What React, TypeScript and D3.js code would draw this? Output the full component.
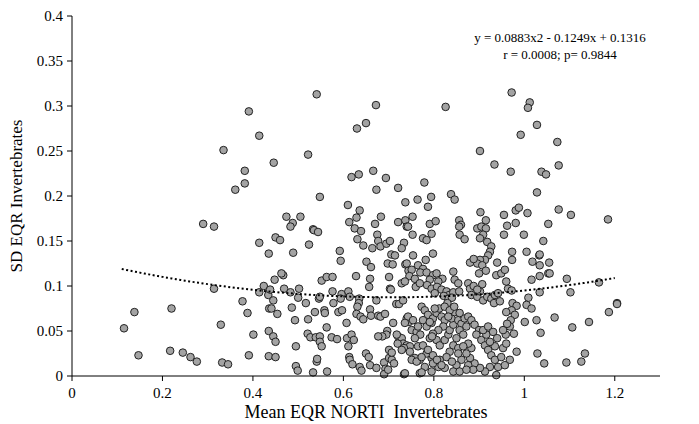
import * as d3 from "d3";

// Mean EQR (x) and SD EQR (y) per site
const meanEqr = [
  0.391, 0.414, 0.335, 0.382, 0.382, 0.361, 0.29, 0.314, 0.414, 0.435, 0.314, 0.424, 0.414, 0.434, 0.377, 0.388,
  0.436, 0.138, 0.22, 0.115, 0.329, 0.401, 0.435, 0.147, 0.217, 0.245, 0.262, 0.276, 0.332, 0.345, 0.391, 0.435,
  0.541, 0.672, 0.65, 0.63, 0.522, 0.446, 0.618, 0.634, 0.666, 0.694, 0.673, 0.721, 0.548, 0.737, 0.61, 0.636,
  0.629, 0.683, 0.474, 0.505, 0.488, 0.483, 0.613, 0.721, 0.737, 0.67, 0.533,
  0.535, 0.544, 0.45, 0.46, 0.524, 0.489, 0.592, 0.594, 0.625, 0.639, 0.675, 0.677, 0.664, 0.682, 0.631, 0.644,
  0.651, 0.661, 0.659, 0.657, 0.695, 0.703, 0.734, 0.74, 0.706, 0.714, 0.698, 0.709, 0.737, 0.744, 0.628, 0.701,
  0.703, 0.705, 0.729, 0.717, 0.723, 0.552, 0.563, 0.576, 0.467, 0.463, 0.448, 0.438, 0.445, 0.441, 0.454, 0.469,
  0.483, 0.502, 0.5, 0.486, 0.517, 0.546, 0.548, 0.576, 0.596, 0.611, 0.594, 0.614, 0.537, 0.558, 0.559, 0.589,
  0.597, 0.578, 0.635, 0.634, 0.631, 0.629, 0.638, 0.644, 0.659, 0.661, 0.677, 0.673, 0.682, 0.692, 0.71, 0.74,
  0.745, 0.493, 0.522, 0.563, 0.607, 0.445, 0.45, 0.521, 0.527, 0.539, 0.548, 0.548, 0.552, 0.574, 0.586, 0.608,
  0.611, 0.618, 0.623, 0.495, 0.45, 0.495, 0.499, 0.533, 0.564, 0.541, 0.542, 0.613, 0.614, 0.62, 0.636, 0.64,
  0.65, 0.656, 0.659, 0.673, 0.69, 0.693, 0.701, 0.707, 0.712, 0.734, 0.69, 0.721, 0.729, 0.732, 0.74, 0.718,
  0.697, 0.695, 0.686, 0.677,
  0.972, 1.012, 1.008, 0.826, 1.028, 0.992, 0.902, 0.934, 0.97, 1.038, 1.048, 0.779, 1.028, 0.764, 0.794, 0.787,
  0.838, 0.846, 0.753, 0.903, 0.915, 0.955, 0.981, 0.988, 1.007, 1.053, 0.791, 0.804, 0.856, 0.86, 0.856, 0.743,
  0.962, 0.981, 0.896, 0.905, 0.915,
  0.857, 0.909, 0.918, 0.902, 0.955, 0.999, 1.042, 0.753, 0.776, 0.784, 0.795, 0.729, 0.927, 0.924, 0.92, 0.913,
  0.902, 0.896, 0.907, 0.915, 0.9, 0.88, 0.888, 0.94, 0.973, 0.973, 1.005, 1.018, 1.033, 1.034, 1.053, 0.798,
  0.754, 0.74, 0.751, 0.746, 0.758, 0.76, 0.769, 0.736, 0.782, 0.765, 0.776, 0.77, 0.784, 0.798, 0.806, 0.819,
  0.81, 0.791, 0.785, 0.795, 0.807, 0.817, 0.802, 0.828, 0.834, 0.843, 0.846, 0.854, 0.876, 0.88, 0.883, 0.896,
  0.902, 0.888, 0.907, 0.896, 0.843, 0.856, 0.909, 0.918, 0.927, 0.935, 0.942, 0.933, 0.946, 0.964, 0.972, 0.96,
  0.938, 0.949, 0.957, 1.009, 1.005, 1.016, 1.034, 1.027, 1.036, 1.029, 1.044, 0.974, 0.983, 0.972, 0.979, 0.97,
  0.968, 0.977, 0.959, 0.953, 0.962, 0.96, 1.001, 0.732, 0.743, 0.754, 0.736, 0.751, 0.762, 0.77, 0.758, 0.747,
  0.734, 0.765, 0.776, 0.773, 0.78, 0.787, 0.776, 0.784, 0.795, 0.798, 0.806, 0.812, 0.817, 0.824, 0.821, 0.81,
  0.798, 0.791, 0.806, 0.813, 0.824, 0.832, 0.835, 0.843, 0.839, 0.846, 0.854, 0.861, 0.868, 0.876, 0.872, 0.857,
  0.865, 0.85, 0.843, 0.854, 0.835, 0.828, 0.813, 0.795, 0.784, 0.769, 0.758, 0.747, 0.883, 0.89, 0.9, 0.894,
  0.905, 0.913, 0.92, 0.927, 0.935, 0.942, 0.938, 0.924, 0.913, 0.902, 0.89, 0.88, 0.872, 0.883, 0.876, 0.865,
  0.861, 0.85, 0.843, 0.824, 0.81, 0.798, 0.78, 0.769, 0.953, 0.96, 0.983, 0.968, 0.957, 0.949, 0.935, 0.924,
  0.916, 0.909, 0.92, 0.931, 0.94,
  1.073, 1.076, 1.076, 1.103, 1.185, 1.055, 1.056, 1.034, 1.034, 1.094, 1.165, 1.102, 1.205, 1.205, 1.187, 1.067,
  1.143, 1.106, 1.134, 1.093, 1.126,
  0.701, 0.707, 0.699, 1.016, 0.868, 0.822, 0.833, 0.84, 0.83, 0.802, 0.824, 0.835, 0.845, 0.765, 0.791, 0.796,
  0.832, 0.857, 0.72, 0.729, 0.751, 0.762, 0.773, 0.787, 0.798, 0.807, 0.817, 0.84, 0.854, 0.876, 0.887, 0.736,
  0.773, 0.795, 0.857, 0.872,
];

const sdEqr = [
  0.294, 0.267, 0.251, 0.228, 0.214, 0.207, 0.169, 0.166, 0.148, 0.136, 0.097, 0.1, 0.093, 0.09, 0.083, 0.07,
  0.075, 0.071, 0.075, 0.053, 0.057, 0.046, 0.05, 0.023, 0.028, 0.026, 0.021, 0.016, 0.015, 0.013, 0.023, 0.022,
  0.313, 0.301, 0.281, 0.275, 0.246, 0.237, 0.221, 0.224, 0.228, 0.22, 0.207, 0.209, 0.199, 0.193, 0.19, 0.184,
  0.176, 0.177, 0.177, 0.177, 0.17, 0.166, 0.171, 0.171, 0.173, 0.169, 0.163,
  0.162, 0.16, 0.154, 0.151, 0.146, 0.137, 0.139, 0.128, 0.164, 0.161, 0.157, 0.15, 0.142, 0.144, 0.152, 0.145,
  0.127, 0.121, 0.108, 0.099, 0.147, 0.15, 0.148, 0.166, 0.135, 0.134, 0.125, 0.124, 0.124, 0.117, 0.111, 0.11,
  0.097, 0.096, 0.103, 0.08, 0.08, 0.106, 0.11, 0.11, 0.112, 0.114, 0.107, 0.096, 0.084, 0.075, 0.069, 0.097,
  0.093, 0.097, 0.087, 0.076, 0.081, 0.086, 0.088, 0.094, 0.091, 0.094, 0.086, 0.088, 0.071, 0.073, 0.07, 0.071,
  0.073, 0.081, 0.086, 0.081, 0.077, 0.069, 0.066, 0.063, 0.074, 0.067, 0.067, 0.084, 0.066, 0.069, 0.059, 0.064,
  0.06, 0.062, 0.063, 0.054, 0.059, 0.044, 0.038, 0.047, 0.043, 0.043, 0.044, 0.038, 0.033, 0.043, 0.041, 0.042,
  0.033, 0.046, 0.04, 0.033, 0.021, 0.011, 0.006, 0.004, 0.005, 0.016, 0.019, 0.021, 0.018, 0.013, 0.01, 0.006,
  0.025, 0.021, 0.012, 0.009, 0.015, 0.008, 0.02, 0.018, 0.014, 0.002, 0.002, 0.044, 0.042, 0.036, 0.034, 0.046,
  0.05, 0.046, 0.044, 0.044,
  0.315, 0.304, 0.298, 0.299, 0.279, 0.268, 0.25, 0.235, 0.227, 0.227, 0.224, 0.215, 0.204, 0.196, 0.199, 0.188,
  0.202, 0.196, 0.177, 0.182, 0.173, 0.179, 0.184, 0.187, 0.181, 0.169, 0.169, 0.172, 0.173, 0.168, 0.166, 0.166,
  0.167, 0.17, 0.164, 0.166, 0.164,
  0.157, 0.157, 0.149, 0.153, 0.157, 0.157, 0.15, 0.157, 0.153, 0.151, 0.158, 0.142, 0.144, 0.138, 0.134, 0.129,
  0.129, 0.125, 0.123, 0.117, 0.114, 0.126, 0.13, 0.126, 0.138, 0.129, 0.138, 0.127, 0.134, 0.123, 0.114, 0.136,
  0.134, 0.125, 0.118, 0.111, 0.108, 0.099, 0.103, 0.105, 0.129, 0.123, 0.119, 0.115, 0.115, 0.112, 0.114, 0.108,
  0.105, 0.107, 0.101, 0.097, 0.099, 0.096, 0.092, 0.094, 0.09, 0.116, 0.107, 0.103, 0.103, 0.097, 0.09, 0.088,
  0.094, 0.1, 0.102, 0.096, 0.093, 0.094, 0.084, 0.088, 0.086, 0.09, 0.092, 0.081, 0.083, 0.097, 0.095, 0.105,
  0.112, 0.114, 0.118, 0.087, 0.079, 0.075, 0.093, 0.062, 0.048, 0.025, 0.014, 0.081, 0.078, 0.073, 0.068, 0.062,
  0.055, 0.047, 0.046, 0.051, 0.058, 0.071, 0.06, 0.084, 0.066, 0.062, 0.059, 0.051, 0.049, 0.046, 0.042, 0.033,
  0.031, 0.033, 0.034, 0.077, 0.073, 0.068, 0.062, 0.055, 0.059, 0.064, 0.07, 0.075, 0.066, 0.062, 0.055, 0.051,
  0.047, 0.042, 0.04, 0.034, 0.04, 0.046, 0.051, 0.057, 0.064, 0.071, 0.062, 0.058, 0.064, 0.066, 0.055, 0.051,
  0.046, 0.042, 0.034, 0.031, 0.027, 0.021, 0.018, 0.02, 0.025, 0.018, 0.02, 0.027, 0.062, 0.057, 0.051, 0.046,
  0.04, 0.034, 0.029, 0.023, 0.018, 0.01, 0.001, 0.01, 0.005, 0.009, 0.014, 0.02, 0.025, 0.031, 0.036, 0.033,
  0.018, 0.012, 0.005, 0.009, 0.01, 0.014, 0.01, 0.003, 0.031, 0.036, 0.027, 0.018, 0.012, 0.021, 0.033, 0.038,
  0.046, 0.051, 0.055, 0.049, 0.042,
  0.26, 0.234, 0.185, 0.179, 0.174, 0.126, 0.114, 0.135, 0.111, 0.108, 0.104, 0.093, 0.081, 0.08, 0.071, 0.065,
  0.06, 0.054, 0.025, 0.015, 0.016,
  0.029, 0.026, 0.007, 0.107, 0.152, 0.089, 0.086, 0.087, 0.081, 0.075, 0.077, 0.073, 0.077, 0.055, 0.06, 0.044,
  0.066, 0.07, 0.036, 0.029, 0.018, 0.016, 0.021, 0.029, 0.023, 0.018, 0.012, 0.016, 0.025, 0.012, 0.007, 0.003,
  0.004, 0.005, 0.005, 0.007,
];

const xTicks = [0, 0.2, 0.4, 0.6, 0.8, 1, 1.2];
const yTicks = [0, 0.05, 0.1, 0.15, 0.2, 0.25, 0.3, 0.35, 0.4];

// polynomial trendline printed on the chart
const fitCoef = [0.0883, -0.1249, 0.1316];
const fitRange = [0.11, 1.2];
const fitLabel = "y = 0.0883x2 - 0.1249x + 0.1316";
const statLabel = "r = 0.0008; p= 0.9844";

const width = 699;
const height = 424;
const margin = { top: 16, right: 39, bottom: 48, left: 72 };
const font = "'Liberation Serif', 'Times New Roman', serif";

export default function App() {
  const x = d3.scaleLinear().domain([0, 1.3]).range([margin.left, width - margin.right]);
  const y = d3.scaleLinear().domain([0, 0.4]).range([height - margin.bottom, margin.top]);

  const points = meanEqr.map((m, i) => ({ m, s: sdEqr[i] }));

  const fit = (v: number) => fitCoef[0] * v * v + fitCoef[1] * v + fitCoef[2];
  const fitXs = d3.range(fitRange[0], fitRange[1] + 0.001, 0.01);
  const line = d3
    .line<number>()
    .x(v => x(v))
    .y(v => y(fit(v)));

  const x0 = x(0);
  const y0 = y(0);

  return (
    <svg
      width={width}
      height={height}
      style={{ position: "absolute", left: 0, top: 0, background: "#fff" }}
      fontFamily={font}
    >
      <g className="points">
        {points.map((p, i) => (
          <circle key={i} cx={x(p.m)} cy={y(p.s)} r={3.8} fill="#a3a3a3" stroke="#222" strokeWidth={1} />
        ))}
      </g>

      <path d={line(fitXs) ?? ""} fill="none" stroke="#000" strokeWidth={2} strokeDasharray="2 2.5" />

      {/* y axis */}
      <line x1={x0} x2={x0} y1={y(0.4)} y2={y0} stroke="#000" strokeWidth={1} />
      {yTicks.map(t => (
        <g key={t}>
          <line x1={x0 - 5} x2={x0} y1={y(t)} y2={y(t)} stroke="#000" />
          <text x={x0 - 9} y={y(t)} dy="0.35em" textAnchor="end" fontSize={15}>
            {String(t)}
          </text>
        </g>
      ))}

      {/* x axis */}
      <line x1={x0} x2={x(1.3)} y1={y0} y2={y0} stroke="#000" strokeWidth={1} />
      {xTicks.map(t => (
        <g key={t}>
          <line x1={x(t)} x2={x(t)} y1={y0} y2={y0 + 5} stroke="#000" />
          <text x={x(t)} y={y0 + 22} textAnchor="middle" fontSize={15}>
            {String(t)}
          </text>
        </g>
      ))}

      <text
        transform={`translate(22,${(y(0.4) + y0) / 2}) rotate(-90)`}
        textAnchor="middle"
        fontSize={17}
      >
        SD EQR Invertebrates
      </text>
      <text x={(x0 + x(1.3)) / 2} y={418} textAnchor="middle" fontSize={18} style={{ whiteSpace: "pre" }}>
        {"Mean EQR NORTI  Invertebrates"}
      </text>

      <text x={560} y={42} textAnchor="middle" fontSize={13}>
        {fitLabel}
      </text>
      <text x={560} y={59} textAnchor="middle" fontSize={13}>
        {statLabel}
      </text>
    </svg>
  );
}
